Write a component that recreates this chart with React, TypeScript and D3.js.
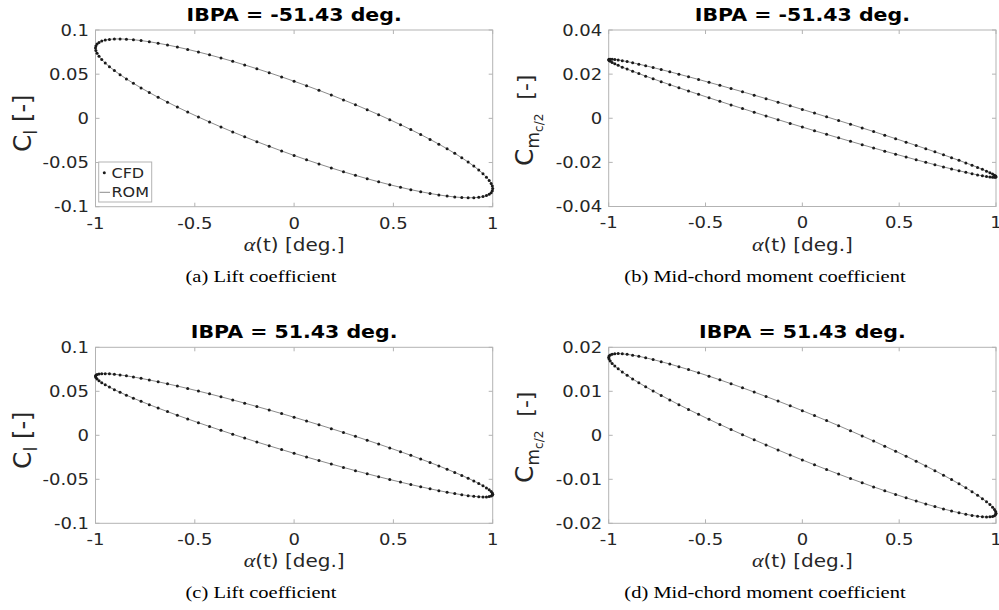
import React, { useEffect, useRef } from "react";
import * as d3 from "d3";

const alphaTicks = [-1, -0.5, 0, 0.5, 1];
const liftTicks = [-0.1, -0.05, 0, 0.05, 0.1];
const momentTicksA = [-0.04, -0.02, 0, 0.02, 0.04];
const momentTicksB = [-0.02, -0.01, 0, 0.01, 0.02];

const ibpa = ["-51.43", "-51.43", "51.43", "51.43"];
const captions = [
  "(a) Lift coefficient",
  "(b) Mid-chord moment coefficient",
  "(c) Lift coefficient",
  "(d) Mid-chord moment coefficient",
];

// values: coefficient at alpha = +1 and at alpha = 0 (upper branch)
const coefAtAlphaMax = [-0.0795, -0.0265, -0.067, -0.0177];
const coefAtAlphaZero = [0.042, 0.004, 0.0205, 0.0056];
const samplesPerCycle = 100;

const W = 999;
const H = 610;
const sans = "'DejaVu Sans', sans-serif";
const serif = "'Liberation Serif', 'Times New Roman', serif";
const textColor = "#262626";
const boxColor = "#b3b3b3";
const SQ = 0.84; // text in the picture is a bit flattened

const panels = [
  { left: 95.5, right: 492.7, top: 30, bottom: 206.7, ticks: liftTicks, kind: "lift", capX: 261, capY: 281.5 },
  { left: 608.7, right: 996, top: 30, bottom: 206.5, ticks: momentTicksA, kind: "moment", capX: 765, capY: 281.5 },
  { left: 95.5, right: 492.7, top: 347.3, bottom: 523.3, ticks: liftTicks, kind: "lift", capX: 261, capY: 598 },
  { left: 608.7, right: 996, top: 347.3, bottom: 523.3, ticks: momentTicksB, kind: "moment", capX: 765, capY: 598 },
];

const flatText = (g: any, x: number, y: number, size: number, anchor = "middle") =>
  g
    .append("text")
    .attr("transform", `translate(${x},${y}) scale(1,${SQ})`)
    .attr("text-anchor", anchor)
    .attr("font-family", sans)
    .attr("font-size", size)
    .attr("fill", textColor);

const App = () => {
  const ref = useRef<SVGSVGElement>(null);

  useEffect(() => {
    const svg = d3.select(ref.current);
    svg.selectAll("*").remove();

    panels.forEach((p, i) => {
      const x = d3.scaleLinear().domain([-1, 1]).range([p.left, p.right]);
      const y = d3
        .scaleLinear()
        .domain([p.ticks[0], p.ticks[p.ticks.length - 1]])
        .range([p.bottom, p.top]);

      const g = svg.append("g");

      // sample the periodic motion
      const pts = d3.range(samplesPerCycle).map((k) => {
        const th = (2 * Math.PI * k) / samplesPerCycle;
        return {
          a: Math.sin(th),
          c: coefAtAlphaMax[i] * Math.sin(th) + coefAtAlphaZero[i] * Math.cos(th),
        };
      });

      // box
      g.append("rect")
        .attr("x", p.left)
        .attr("y", p.top)
        .attr("width", p.right - p.left)
        .attr("height", p.bottom - p.top)
        .attr("fill", "white")
        .attr("stroke", boxColor)
        .attr("stroke-width", 1);

      const tl = 4;
      alphaTicks.forEach((t) => {
        g.append("line")
          .attr("x1", x(t)).attr("x2", x(t))
          .attr("y1", p.bottom).attr("y2", p.bottom - tl)
          .attr("stroke", boxColor);
        g.append("line")
          .attr("x1", x(t)).attr("x2", x(t))
          .attr("y1", p.top).attr("y2", p.top + tl)
          .attr("stroke", boxColor);
        flatText(g, x(t), p.bottom + 21.8, 18).text(String(t));
      });

      p.ticks.forEach((t) => {
        g.append("line")
          .attr("x1", p.left).attr("x2", p.left + tl)
          .attr("y1", y(t)).attr("y2", y(t))
          .attr("stroke", boxColor);
        g.append("line")
          .attr("x1", p.right).attr("x2", p.right - tl)
          .attr("y1", y(t)).attr("y2", y(t))
          .attr("stroke", boxColor);
        flatText(g, p.left - 6.5, y(t) + 5.5, 18, "end").text(String(t));
      });

      // ROM line
      const line = d3
        .line<{ a: number; c: number }>()
        .x((d) => x(d.a))
        .y((d) => y(d.c))
        .curve(d3.curveCardinalClosed);
      g.append("path")
        .attr("d", line(pts))
        .attr("fill", "none")
        .attr("stroke", "#8c8c8c")
        .attr("stroke-width", 1);

      // CFD dots
      g.selectAll("circle.cfd")
        .data(pts)
        .join("circle")
        .attr("class", "cfd")
        .attr("cx", (d) => x(d.a))
        .attr("cy", (d) => y(d.c))
        .attr("r", 1.5)
        .attr("fill", "#1a1a1a");

      // title
      flatText(g, (p.left + p.right) / 2, p.top - 9.5, 20.5)
        .attr("font-weight", "bold")
        .attr("fill", "#000")
        .text(`IBPA = ${ibpa[i]} deg.`);

      // x label
      const xl = flatText(g, (p.left + p.right) / 2, p.bottom + 44, 20);
      xl.append("tspan")
        .text("α")
        .attr("font-family", serif)
        .attr("font-style", "italic")
        .attr("font-size", 22);
      xl.append("tspan").text("(t) [deg.]");

      // y label
      const lift = p.kind === "lift";
      const ylx = lift ? p.left - 64.5 : p.left - 75.7;
      const yly = (p.top + p.bottom) / 2 + (lift ? 5 : 2);
      const yl = g
        .append("text")
        .attr("transform", `translate(${ylx},${yly}) rotate(-90)`)
        .attr("text-anchor", "middle")
        .attr("font-family", sans)
        .attr("font-size", 25)
        .attr("fill", textColor);
      yl.append("tspan").text("C");
      if (lift) {
        yl.append("tspan").text("l").attr("font-size", 18).attr("dy", 6);
        yl.append("tspan").text(" [-]").attr("dy", -6).attr("font-size", 24);
      } else {
        yl.append("tspan").text("m").attr("font-size", 17).attr("dy", 6);
        yl.append("tspan").text("c/2").attr("font-size", 12).attr("dy", 4);
        yl.append("tspan").text("\u00a0\u00a0[-]").attr("dy", -10).attr("font-size", 22);
      }

      // caption
      flatText(g, p.capX, p.capY, 20.5)
        .attr("font-family", serif)
        .attr("fill", "#000")
        .text(captions[i]);

      // legend only in the first panel
      if (i === 0) {
        const lg = g.append("g");
        lg.append("rect")
          .attr("x", 98.7)
          .attr("y", 162)
          .attr("width", 53)
          .attr("height", 40)
          .attr("fill", "white")
          .attr("stroke", boxColor);
        lg.append("circle").attr("cx", 104.3).attr("cy", 172.7).attr("r", 1.5).attr("fill", "#1a1a1a");
        lg.append("line")
          .attr("x1", 99.5).attr("x2", 110)
          .attr("y1", 192.3).attr("y2", 192.3)
          .attr("stroke", "#8c8c8c");
        ["CFD", "ROM"].forEach((s, k) => {
          flatText(lg, 111.5, 172.7 + k * 19.6 + 5, 16, "start").text(s);
        });
      }
    });
  }, []);

  return (
    <div style={{ position: "absolute", left: 0, top: 0 }}>
      <svg ref={ref} width={W} height={H} style={{ display: "block", background: "white" }}></svg>
    </div>
  );
};

export default App;
